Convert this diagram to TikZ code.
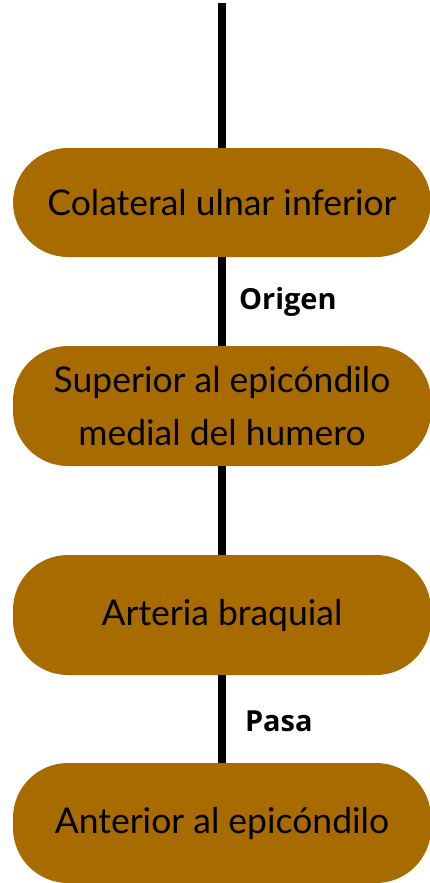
\documentclass[tikz,border=0pt]{standalone}
\usepackage{fontspec}
\setmainfont{Lato}
\newfontfamily\labelfont{Open Sans}
\usetikzlibrary{positioning}

\definecolor{caja}{RGB}{168,107,0}

\begin{document}
\begin{tikzpicture}[x=1pt,y=-1pt,
    caja/.style={fill=caja, rounded corners=55pt, minimum width=418pt,
      inner sep=0pt, align=center, font=\fontsize{35.5}{53}\selectfont},
    linea/.style={line width=8pt},
    etiqueta/.style={anchor=west, inner sep=0pt,
      font=\labelfont\bfseries\fontsize{29}{34}\selectfont}]
    \useasboundingbox (0,0) rectangle (429,883);

    \coordinate (arriba) at (222,3);

    \node[caja, minimum height=109pt] (colateral) at (222,202.5)
    {Colateral ulnar inferior};

    \node[caja, minimum height=120pt] (superior) at (222,406)
    {Superior al epicóndilo\\medial del humero};

    \node[caja, minimum height=120pt] (arteria) at (222,615)
    {Arteria braquial};

    \node[caja, minimum height=120pt] (anterior) at (222,823)
    {Anterior al epicóndilo};



    \draw[linea] (arriba) -- (colateral.north);

    \draw[linea] (colateral.south) -- (superior.north)
    node[pos=0.5, etiqueta, xshift=13pt] (origen) {Origen};

    \draw[linea] (superior.south) -- (arteria.north);

    \draw[linea] (arteria.south) -- (anterior.north)
    node[pos=0.5, etiqueta, xshift=19pt, yshift=-2pt] (pasa) {Pasa};
  \end{tikzpicture}
\end{document}
